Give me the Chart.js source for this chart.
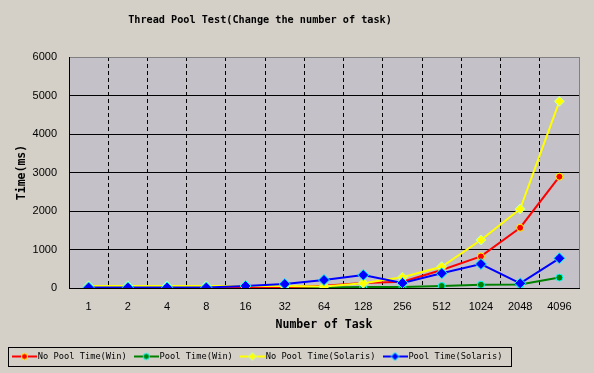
<!DOCTYPE html>
<html><head><meta charset="utf-8">
<script src="https://cdn.jsdelivr.net/npm/chart.js@4"></script>
<style>html,body{margin:0;padding:0;background:#D4D0C8;}canvas{display:block;}</style>
</head><body>
<canvas id="c" width="594" height="373"></canvas>
<script>
const TITLE = 'Thread Pool Test(Change the number of task)';
const X_TITLE = 'Number of Task';
const Y_TITLE = 'Time(ms)';
const categories = ['1','2','4','8','16','32','64','128','256','512','1024','2048','4096'];
const yTicks = [0,1000,2000,3000,4000,5000,6000];
const seriesNames = ['No Pool Time(Win)','Pool Time(Win)','No Pool Time(Solaris)','Pool Time(Solaris)'];
const noPoolWin     = [5,5,5,5,10,20,60,130,164,468,820,1566,2891];
const poolWin       = [5,5,5,5,5,10,15,26,26,52,85,90,270];
const noPoolSolaris = [55,55,55,55,55,50,40,122,280,553,1247,2052,4849];
const poolSolaris   = [15,15,15,15,52,104,208,338,130,381,623,122,771];

const MONO = '"DejaVu Sans Mono", monospace';
const SANS = '"Liberation Sans", Arial, sans-serif';

function icon(lineColor, fill, stroke, shape) {
  const c = document.createElement('canvas');
  c.width = 25; c.height = 10;
  const g = c.getContext('2d');
  g.fillStyle = lineColor; g.fillRect(0, 4, 25, 2);
  g.beginPath();
  if (shape === 'circle') { g.arc(12.5, 5, 3, 0, Math.PI * 2); }
  else { g.moveTo(12.5, 1); g.lineTo(16.5, 5); g.lineTo(12.5, 9); g.lineTo(8.5, 5); g.closePath(); }
  g.fillStyle = fill; g.fill();
  g.lineWidth = 1; g.strokeStyle = stroke; g.stroke();
  return c;
}
const icons = [
  icon('#FF0000', '#FF0000', '#FFFF00', 'circle'),
  icon('#008000', '#008000', '#00FFFF', 'circle'),
  icon('#FFFF00', '#FFFF00', '#C0FFC0', 'diamond'),
  icon('#0000FF', '#0000FF', '#00FFFF', 'diamond')
];

const plotBg = { id: 'plotBg', beforeDraw(chart) {
  const a = chart.chartArea, ctx = chart.ctx;
  ctx.save(); ctx.fillStyle = '#C4C2C8';
  ctx.fillRect(a.left, a.top, a.right - a.left, a.bottom - a.top); ctx.restore();
}};
const titleShift = { id: 'titleShift', afterLayout(chart) {
  const t = chart.titleBlock; if (t) { t.left = 0; t.right = 520; t.width = 520; }
}};
const legendFrame = { id: 'legendFrame', afterDraw(chart) {
  const lg = chart.legend; if (!lg || !lg.legendHitBoxes || !lg.legendHitBoxes.length) return;
  const hb = lg.legendHitBoxes, first = hb[0], last = hb[hb.length - 1];
  const cy = first.top + first.height / 2;
  const l = Math.round(first.left - 7.5) + 0.5, r = Math.round(last.left + last.width + 8) + 0.5;
  const t = Math.round(cy - 9.5) + 0.5, b = Math.round(cy + 9.5) + 0.5;
  const ctx = chart.ctx; ctx.save(); ctx.strokeStyle = '#000'; ctx.lineWidth = 1;
  ctx.strokeRect(l, t, r - l, b - t); ctx.restore();
}};

const common = { borderWidth: 2, tension: 0, pointBorderWidth: 1, pointHoverRadius: 5 };
new Chart(document.getElementById('c'), {
  type: 'line',
  data: {
    labels: categories,
    datasets: [
      Object.assign({ label: seriesNames[0], data: noPoolWin, borderColor: '#FF0000', backgroundColor: '#FF0000',
        pointStyle: 'circle', pointRadius: 3.5, pointBackgroundColor: '#FF0000', pointBorderColor: '#FFFF00', order: 2 }, common),
      Object.assign({ label: seriesNames[1], data: poolWin, borderColor: '#008000', backgroundColor: '#008000',
        pointStyle: 'circle', pointRadius: 3.5, pointBackgroundColor: '#008000', pointBorderColor: '#00FFFF', order: 3 }, common),
      Object.assign({ label: seriesNames[2], data: noPoolSolaris, borderColor: '#FFFF00', backgroundColor: '#FFFF00',
        pointStyle: 'rectRot', pointRadius: 5, pointBackgroundColor: '#FFFF00', pointBorderColor: '#C0FFC0', order: 1 }, common),
      Object.assign({ label: seriesNames[3], data: poolSolaris, borderColor: '#0000FF', backgroundColor: '#0000FF',
        pointStyle: 'rectRot', pointRadius: 5.5, pointBackgroundColor: '#0000FF', pointBorderColor: '#00FFFF', order: 0 }, common)
    ]
  },
  options: {
    responsive: false, animation: false, devicePixelRatio: 1,
    layout: { padding: { left: 5, right: 15, top: 0, bottom: 2.15 } },
    plugins: {
      tooltip: { enabled: false },
      title: { display: true, text: TITLE, color: '#000', font: { family: MONO, size: 10.2, weight: 'bold' },
        padding: { top: 14.4, bottom: 30.36 } },
      legend: { position: 'bottom', align: 'start',
        labels: { color: '#000', font: { family: MONO, size: 8.7 }, usePointStyle: true, pointStyleWidth: 18, padding: 10.5,
          sort: (a, b) => a.datasetIndex - b.datasetIndex,
          generateLabels: (chart) => Chart.defaults.plugins.legend.labels.generateLabels(chart)
            .map(it => Object.assign(it, { pointStyle: icons[it.datasetIndex] })) } }
    },
    scales: {
      x: { type: 'category', offset: true,
        grid: { offset: true, drawTicks: false, lineWidth: 1,
          color: (c) => c.type === 'tick' ? (c.index === 0 ? 'rgba(0,0,0,0)' : '#000') : '#808080' },
        border: { display: true, color: '#000', width: 1, dash: (c) => c.type === 'tick' ? [4, 3] : [] },
        ticks: { color: '#000', font: { family: SANS, size: 11 }, padding: 12, maxRotation: 0, autoSkip: false },
        title: { display: true, text: X_TITLE, color: '#000', font: { family: MONO, size: 11.5, weight: 'bold' },
          padding: { top: 0, bottom: 9.75 } },
        afterFit: (s) => { s.height = 53.65; } },
      y: { min: 0, max: 6000,
        afterBuildTicks: (s) => { s.ticks = yTicks.map(v => ({ value: v })); },
        grid: { drawTicks: false, lineWidth: 1,
          color: (c) => (c.tick && c.tick.value === 6000) ? '#808080' : '#000' },
        border: { display: true, color: '#000', width: 1 },
        ticks: { color: '#000', font: { family: SANS, size: 11 }, padding: 12, callback: (v) => String(v) },
        title: { display: true, text: Y_TITLE, color: '#000', font: { family: MONO, size: 11.5, weight: 'bold' },
          padding: { top: 10.6, bottom: 0 } },
        afterFit: (s) => { s.width = 64; } }
    }
  },
  plugins: [plotBg, titleShift, legendFrame]
});
</script>
</body></html>
